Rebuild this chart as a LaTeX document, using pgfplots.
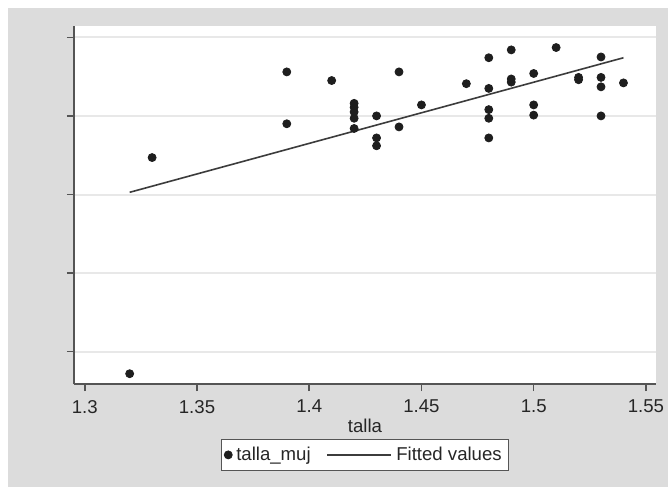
\documentclass[border=0pt]{standalone}
\usepackage{pgfplots}
\pgfplotsset{compat=1.18}
\usepackage{fontspec}
\setmainfont{Liberation Sans}
\definecolor{bggray}{RGB}{220,220,220}
\definecolor{axgray}{RGB}{85,85,85}
\definecolor{gridgray}{RGB}{232,232,232}
\definecolor{dotcol}{RGB}{30,30,30}
\definecolor{fitcol}{RGB}{60,60,60}
\pgfplotsset{fitline/.style={legend image code/.code={\draw[##1] (0pt,0pt) -- (32pt,0pt);}}}

\pgfplotstableread{
x y
1.32 1.172
1.33 1.447
1.39 1.556
1.39 1.490
1.41 1.545
1.42 1.516
1.42 1.511
1.42 1.505
1.42 1.497
1.42 1.484
1.43 1.500
1.43 1.472
1.43 1.462
1.44 1.556
1.44 1.486
1.45 1.514
1.47 1.541
1.48 1.574
1.48 1.535
1.48 1.508
1.48 1.497
1.48 1.472
1.49 1.584
1.49 1.547
1.49 1.543
1.50 1.554
1.50 1.514
1.50 1.501
1.51 1.587
1.52 1.549
1.52 1.546
1.53 1.575
1.53 1.549
1.53 1.537
1.53 1.500
1.54 1.542
}\mujdata

\begin{document}
\begin{tikzpicture}
\useasboundingbox (-37pt,-51.5pt) rectangle (297pt,192pt);
\fill[white] (-37pt,-51.5pt) rectangle (297pt,192pt);
\fill[bggray] (-33pt,-51.5pt) rectangle (297pt,188pt);
\begin{axis}[
  scale only axis,
  width=291pt, height=179pt,
  xmin=1.2952, xmax=1.5545,
  ymin=1.1589, ymax=1.6144,
  axis background/.style={fill=white},
  axis lines=left,
  axis line style={-, draw=axgray, line width=0.8pt},
  tick align=outside,
  major tick length=3.5pt,
  tick style={draw=axgray, line width=0.8pt},
  xtick={1.3,1.35,1.4,1.45,1.5,1.55},
  ytick={1.2,1.3,1.4,1.5,1.6},
  yticklabels={},
  ymajorgrids,
  grid style={draw=gridgray, line width=1pt},
  /pgf/number format/assume math mode=true,
  ticklabel style={font=\fontsize{9.3}{11}\selectfont, text=black!85},
  xticklabel style={yshift=-1pt},
  xlabel={talla},
  xlabel style={font=\fontsize{9.3}{11}\selectfont, text=black!85, yshift=4pt},
  legend style={at={(0.5,-0.198)}, anchor=center, draw=axgray, fill=white,
    font=\fontsize{9.3}{11}\selectfont, text=black!85, legend columns=2,
    inner sep=1.5pt,
    /tikz/every even column/.append style={column sep=6pt}},
]
\addplot[only marks, mark=*, mark size=2pt, draw=dotcol, fill=dotcol] table {\mujdata};
\addlegendentry{talla\_muj}
\addplot[draw=fitcol, line width=0.8pt, fitline]
  coordinates {(1.32,1.4028) (1.54,1.574)};
\addlegendentry{Fitted values}
\end{axis}
\end{tikzpicture}
\end{document}
